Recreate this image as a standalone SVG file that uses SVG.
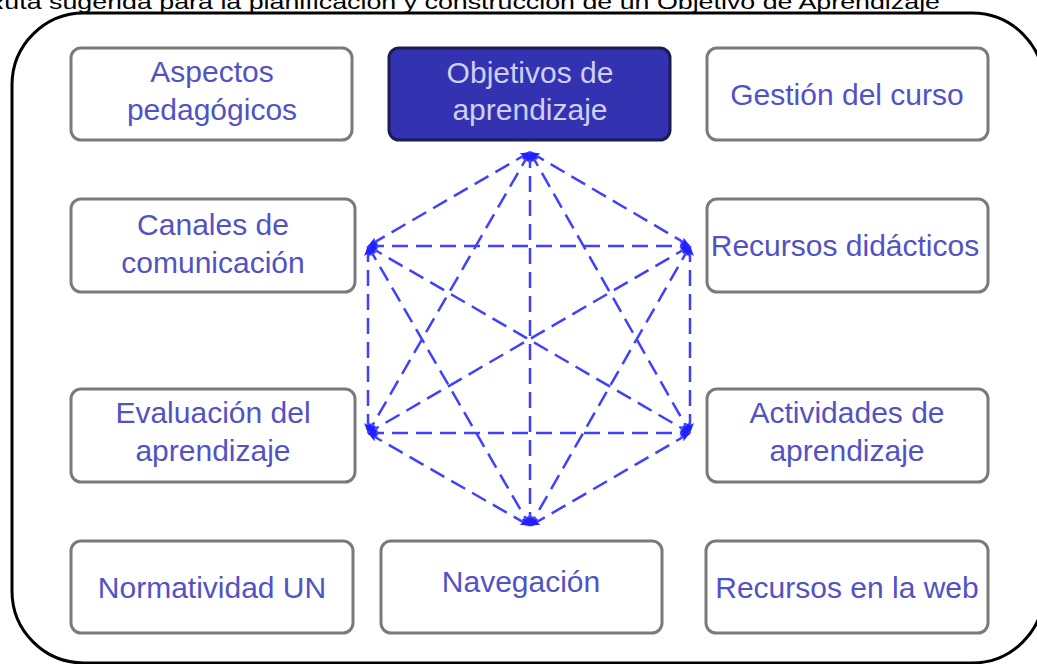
<svg xmlns="http://www.w3.org/2000/svg" width="1037" height="664" viewBox="0 0 1037 664">
<defs>
<style>
.box{fill:#ffffff;stroke:#7a7a7a;stroke-width:3}
.main{fill:#3333b2;stroke:#1c1c50;stroke-width:3}
.lbl{font-family:"Liberation Sans",Arial,sans-serif;font-size:30px;fill:#5252c4;text-anchor:middle}
.lblw{font-family:"Liberation Sans",Arial,sans-serif;font-size:30px;fill:#cfcff2;text-anchor:middle}
.edge{stroke:#4040ff;stroke-width:2.5;stroke-dasharray:16 8;fill:none;marker-start:url(#ah);marker-end:url(#ah)}
</style>
<marker id="ah" viewBox="0 0 10 8" refX="10" refY="4" markerWidth="10" markerHeight="8" markerUnits="userSpaceOnUse" orient="auto-start-reverse">
<path d="M0,0 L10,4 L0,8 L2.5,4 z" fill="#2020ff"/>
</marker>
</defs>
<rect width="1037" height="664" fill="#ffffff"/>
<text x="-15" y="9" font-family="Liberation Sans,Arial,sans-serif" font-size="21" fill="#000" textLength="955" lengthAdjust="spacingAndGlyphs">Ruta sugerida para la planificación y construcción de un Objetivo de Aprendizaje</text>
<rect x="12" y="13" width="1032" height="650" rx="72" ry="72" fill="none" stroke="#000" stroke-width="3"/>

<g id="connectors">
<line class="edge" x1="530" y1="152" x2="368" y2="246"/>
<line class="edge" x1="530" y1="152" x2="690" y2="246"/>
<line class="edge" x1="530" y1="152" x2="368" y2="433"/>
<line class="edge" x1="530" y1="152" x2="690" y2="433"/>
<line class="edge" x1="530" y1="152" x2="530" y2="526"/>
<line class="edge" x1="368" y1="246" x2="690" y2="246"/>
<line class="edge" x1="368" y1="246" x2="368" y2="433"/>
<line class="edge" x1="368" y1="246" x2="690" y2="433"/>
<line class="edge" x1="368" y1="246" x2="530" y2="526"/>
<line class="edge" x1="690" y1="246" x2="368" y2="433"/>
<line class="edge" x1="690" y1="246" x2="690" y2="433"/>
<line class="edge" x1="690" y1="246" x2="530" y2="526"/>
<line class="edge" x1="368" y1="433" x2="690" y2="433"/>
<line class="edge" x1="368" y1="433" x2="530" y2="526"/>
<line class="edge" x1="690" y1="433" x2="530" y2="526"/>
</g>

<g id="aspectos">
<rect class="box" x="71" y="48" width="281" height="92" rx="10"/>
<text class="lbl" x="212" y="82">Aspectos</text>
<text class="lbl" x="212" y="120">pedagógicos</text>
</g>
<g id="objetivos">
<rect class="main" x="389" y="48" width="281" height="92" rx="10"/>
<text class="lblw" x="530" y="83">Objetivos de</text>
<text class="lblw" x="530" y="120">aprendizaje</text>
</g>
<g id="gestion">
<rect class="box" x="707" y="48" width="281" height="92" rx="10"/>
<text class="lbl" x="847" y="105">Gestión del curso</text>
</g>
<g id="canales">
<rect class="box" x="71" y="199" width="284" height="93" rx="10"/>
<text class="lbl" x="213" y="235">Canales de</text>
<text class="lbl" x="213" y="273">comunicación</text>
</g>
<g id="recursos-didacticos">
<rect class="box" x="707" y="199" width="281" height="93" rx="10"/>
<text class="lbl" x="845" y="256">Recursos didácticos</text>
</g>
<g id="evaluacion">
<rect class="box" x="71" y="389" width="284" height="93" rx="10"/>
<text class="lbl" x="213" y="423">Evaluación del</text>
<text class="lbl" x="213" y="461">aprendizaje</text>
</g>
<g id="actividades">
<rect class="box" x="707" y="389" width="281" height="93" rx="10"/>
<text class="lbl" x="847" y="423">Actividades de</text>
<text class="lbl" x="847" y="461">aprendizaje</text>
</g>
<g id="normatividad">
<rect class="box" x="71" y="541" width="282" height="92" rx="10"/>
<text class="lbl" x="212" y="598">Normatividad UN</text>
</g>
<g id="navegacion">
<rect class="box" x="381" y="541" width="281" height="92" rx="10"/>
<text class="lbl" x="521" y="592">Navegación</text>
</g>
<g id="recursos-web">
<rect class="box" x="706" y="541" width="282" height="92" rx="10"/>
<text class="lbl" x="847" y="598">Recursos en la web</text>
</g>
</svg>
